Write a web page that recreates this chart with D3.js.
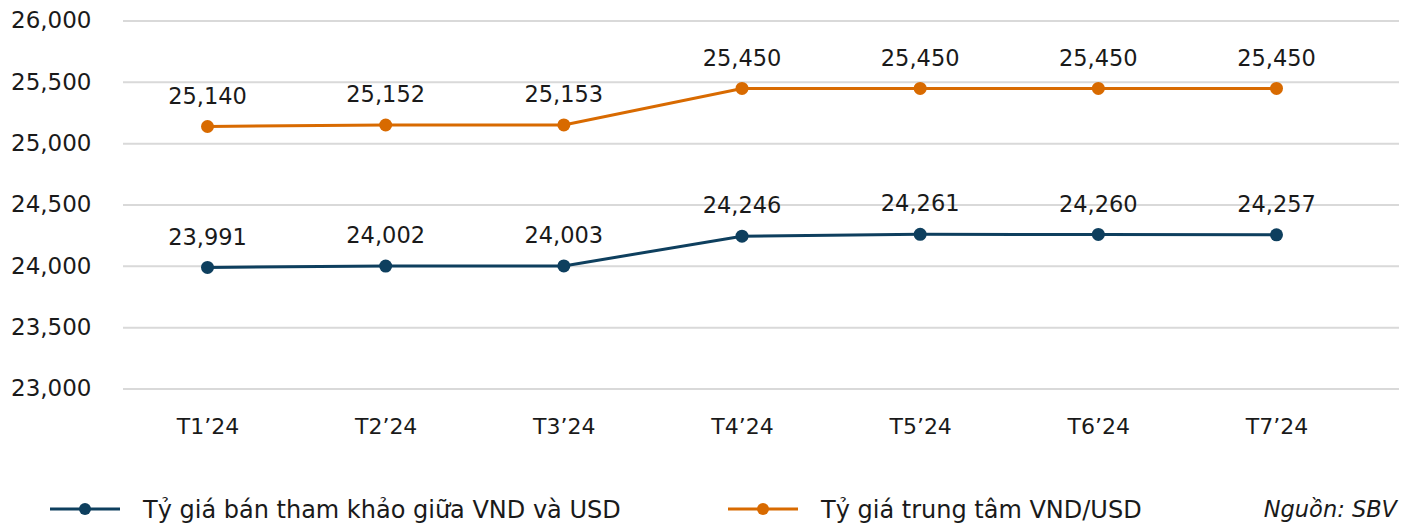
<!DOCTYPE html>
<html><head><meta charset="utf-8">
<script src="https://cdn.jsdelivr.net/npm/d3@7"></script>
<style>
html,body{margin:0;padding:0;background:#fff;}
svg{display:block;font-family:"DejaVu Sans",sans-serif;}
</style></head>
<body><svg id="c" width="1411" height="523"></svg>
<script>
const categories = ["T1’24","T2’24","T3’24","T4’24","T5’24","T6’24","T7’24"];
const seriesNames = ["Tỷ giá bán tham khảo giữa VND và USD","Tỷ giá trung tâm VND/USD"];
const sellRate = [23991,24002,24003,24246,24261,24260,24257];
const centralRate = [25140,25152,25153,25450,25450,25450,25450];
const yTicks = [23000,23500,24000,24500,25000,25500,26000];
const sourceNote = "Nguồn: SBV";
const colors = ["#0e3f5e","#d86a00"];

const svg = d3.select("#c");
const fmt = d3.format(",");
const x = d3.scalePoint().domain(categories).range([207.5,1276.5]);
const y = d3.scaleLinear().domain([23000,26000]).range([389,21]);
const gridL = 123, gridR = 1399;

// gridlines
svg.append("g").selectAll("line").data(yTicks).join("line")
  .attr("x1",gridL).attr("x2",gridR)
  .attr("y1",d=>y(d)).attr("y2",d=>y(d))
  .attr("stroke","#d9d9d9").attr("stroke-width",2);

// y axis labels
const yAxis = svg.append("g").attr("transform","translate(11,0)")
  .call(d3.axisRight(y).tickValues(yTicks).tickFormat(fmt).tickSize(0).tickPadding(0));
yAxis.select(".domain").remove();
yAxis.selectAll("text").attr("font-size",23).attr("fill","#1a1a1a")
  .attr("font-family","DejaVu Sans").attr("dy","0.3em");

// x axis labels
const xAxis = svg.append("g").attr("transform","translate(0,426)")
  .call(d3.axisBottom(x).tickSize(0).tickPadding(0));
xAxis.select(".domain").remove();
xAxis.selectAll("text").attr("font-size",22).attr("fill","#1a1a1a")
  .attr("font-family","DejaVu Sans").attr("dy","0.36em");

const series = [sellRate, centralRate];
const line = d3.line().x((d,i)=>x(categories[i])).y(d=>y(d));
series.forEach((vals,si)=>{
  const g = svg.append("g");
  g.append("path").datum(vals).attr("d",line).attr("fill","none")
    .attr("stroke",colors[si]).attr("stroke-width",3);
  g.selectAll("circle").data(vals).join("circle")
    .attr("cx",(d,i)=>x(categories[i])).attr("cy",d=>y(d)).attr("r",6.5)
    .attr("fill",colors[si]);
  g.selectAll("text").data(vals).join("text")
    .attr("x",(d,i)=>x(categories[i])).attr("y",d=>y(d)-31)
    .attr("dy","0.36em").attr("text-anchor","middle")
    .attr("font-size",22.5).attr("fill","#1a1a1a").text(d=>fmt(d));
});

// legend
const legendX = [50,728];
series.forEach((vals,si)=>{
  const g = svg.append("g").attr("transform",`translate(${legendX[si]},509)`);
  g.append("line").attr("x1",0).attr("x2",70).attr("y1",0).attr("y2",0)
    .attr("stroke",colors[si]).attr("stroke-width",3);
  g.append("circle").attr("cx",35).attr("cy",0).attr("r",6).attr("fill",colors[si]);
  g.append("text").attr("x",93).attr("y",0).attr("dy","0.36em")
    .attr("font-size",24).attr("fill","#1a1a1a").text(seriesNames[si]);
});
svg.append("text").attr("x",1397).attr("y",509).attr("dy","0.36em")
  .attr("text-anchor","end").attr("font-size",22.5).attr("font-style","italic")
  .attr("fill","#1a1a1a").text(sourceNote);
</script></body></html>
